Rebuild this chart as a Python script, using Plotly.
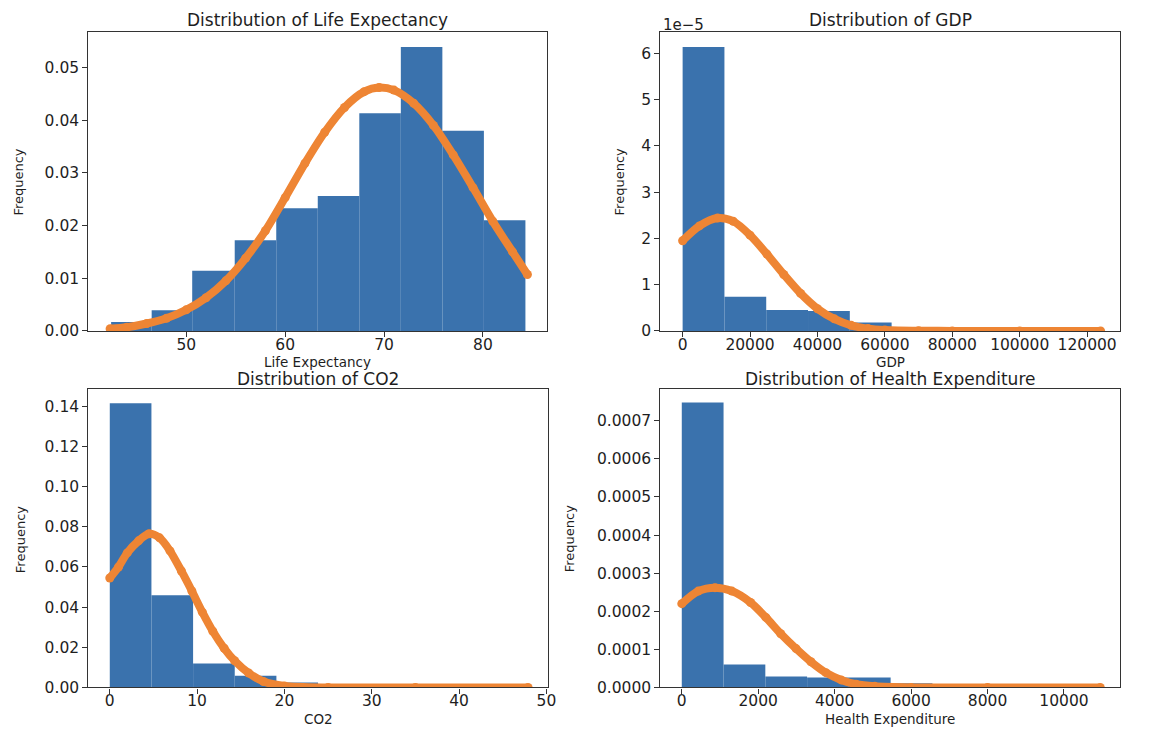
import plotly.graph_objects as go

# ---------------- data ----------------
life_edges = [42.4, 46.5, 50.6, 54.9, 59.1, 63.3, 67.5, 71.7, 75.9, 80.1, 84.3]
life_density = [0.0017, 0.0039, 0.0114, 0.0172, 0.0233, 0.0256, 0.0413, 0.0539, 0.0380, 0.0210]
life_curve_x = [42.3, 44, 46, 48, 50, 52, 54, 56, 58, 60, 62, 64, 66, 68, 69.5, 71, 73, 75,
                77, 79, 81, 83, 84.5]
life_curve_y = [0.0004, 0.0007, 0.0014, 0.0024, 0.0040, 0.0063, 0.0095, 0.0138, 0.0190,
                0.0253, 0.0318, 0.0377, 0.0424, 0.0454, 0.0462, 0.0457, 0.0432, 0.0390,
                0.0334, 0.0272, 0.0208, 0.0150, 0.0107]

gdp_edges = [0, 12400, 24800, 37200, 49600, 62000, 74400, 86800, 99200, 111600, 124000]
gdp_density = [6.14e-5, 0.74e-5, 0.45e-5, 0.43e-5, 0.18e-5, 0.03e-5, 0.01e-5, 0.01e-5, 0.0, 0.01e-5]
gdp_curve_x = [0, 5000, 10400, 15000, 20000, 25000, 30000, 35000, 40000, 45000, 50000,
               55000, 60000, 70000, 80000, 100000, 124000]
gdp_curve_y = [1.95e-5, 2.27e-5, 2.44e-5, 2.37e-5, 2.07e-5, 1.66e-5, 1.22e-5, 0.81e-5,
               0.48e-5, 0.26e-5, 0.12e-5, 0.05e-5, 0.02e-5, 0.003e-5, 0.0, 0.0, 0.0]

co2_edges = [0, 4.77, 9.54, 14.31, 19.08, 23.85, 28.62, 33.39, 38.16, 42.93, 47.7]
co2_density = [0.1415, 0.0459, 0.0119, 0.0059, 0.0025, 0.0002, 0.0001, 0.0, 0.0, 0.0001]
co2_curve_x = [0, 1, 2, 3.3, 4.5, 5.7, 6.9, 8.2, 9.4, 10.6, 11.8, 13.1, 14.3, 15.9, 17.6,
               20, 25, 35, 47.9]
co2_curve_y = [0.0545, 0.060, 0.067, 0.073, 0.0765, 0.0745, 0.068, 0.058, 0.048, 0.0375,
               0.028, 0.0195, 0.0133, 0.0072, 0.003, 0.0008, 0.0, 0.0, 0.0]

health_edges = [0, 1093, 2186, 3279, 4372, 5465, 6558, 7651, 8744, 9837, 10930]
health_density = [0.000748, 0.0000605, 0.0000285, 0.000026, 0.000026, 0.0000112,
                  0.000004, 0.000002, 0.000001, 0.000002]
health_curve_x = [0, 430, 870, 1310, 1800, 2200, 2590, 2990, 3380, 3770, 4170, 4560,
                  5050, 6000, 8000, 10950]
health_curve_y = [0.00022, 0.000253, 0.000262, 0.000253, 0.000223, 0.000184, 0.000141,
                  0.000102, 0.0000674, 0.0000389, 0.0000199, 0.0000086, 0.000003,
                  0.0000002, 0.0, 0.0]

titles = ["Distribution of Life Expectancy", "Distribution of GDP",
          "Distribution of CO2", "Distribution of Health Expenditure"]
xlabels = ["Life Expectancy", "GDP", "CO2", "Health Expenditure"]
ylabel = "Frequency"

# ---------------- styling / layout ----------------
W, H = 1151, 735
BAR = "#3a72ad"
ORANGE = "#ee8534"
TXT = "#1e1e1e"
FONT = "DejaVu Sans"

def fx(px):
    return px / W

def fy(py):
    return 1 - py / H

# axes boxes in pixels: (left, right, top, bottom)
boxes = [(89, 551, 32, 335), (665, 1128, 32, 335), (89, 552, 394, 696), (665, 1128, 394, 696)]
title_gap = [12, 12, 10, 10]

panels = [
    (life_edges, life_density, life_curve_x, life_curve_y),
    (gdp_edges, gdp_density, gdp_curve_x, gdp_curve_y),
    (co2_edges, co2_density, co2_curve_x, co2_curve_y),
    (health_edges, health_density, health_curve_x, health_curve_y),
]

xranges = [[40.1, 86.5], [-6600, 129800], [-2.45, 50.2], [-560, 11470]]
yranges = [[0, 0.0568], [0, 6.47e-5], [0, 0.1485], [0, 0.000783]]

xticks = [
    dict(tickvals=[50, 60, 70, 80], ticktext=["50", "60", "70", "80"]),
    dict(tickvals=[0, 20000, 40000, 60000, 80000, 100000, 120000],
         ticktext=["0", "20000", "40000", "60000", "80000", "100000", "120000"]),
    dict(tickvals=[0, 10, 20, 30, 40, 50], ticktext=["0", "10", "20", "30", "40", "50"]),
    dict(tickvals=[0, 2000, 4000, 6000, 8000, 10000],
         ticktext=["0", "2000", "4000", "6000", "8000", "10000"]),
]
yticks = [
    dict(tickvals=[0, 0.01, 0.02, 0.03, 0.04, 0.05],
         ticktext=["0.00", "0.01", "0.02", "0.03", "0.04", "0.05"]),
    dict(tickvals=[0, 1e-5, 2e-5, 3e-5, 4e-5, 5e-5, 6e-5],
         ticktext=["0", "1", "2", "3", "4", "5", "6"]),
    dict(tickvals=[0, 0.02, 0.04, 0.06, 0.08, 0.10, 0.12, 0.14],
         ticktext=["0.00", "0.02", "0.04", "0.06", "0.08", "0.10", "0.12", "0.14"]),
    dict(tickvals=[0, 0.0001, 0.0002, 0.0003, 0.0004, 0.0005, 0.0006, 0.0007],
         ticktext=["0.0000", "0.0001", "0.0002", "0.0003", "0.0004", "0.0005", "0.0006", "0.0007"]),
]

fig = go.Figure()
layout = dict(
    width=W, height=H, margin=dict(l=0, r=0, t=0, b=0),
    paper_bgcolor="white", plot_bgcolor="white", showlegend=False,
    font=dict(family=FONT, color=TXT, size=15),
)
annotations = []

for i, (edges, dens, cx, cy) in enumerate(panels):
    k = "" if i == 0 else str(i + 1)
    xa, ya = "x" + k, "y" + k
    centers = [(edges[j] + edges[j + 1]) / 2 for j in range(len(dens))]
    widths = [edges[j + 1] - edges[j] for j in range(len(dens))]
    fig.add_trace(go.Bar(x=centers, y=dens, width=widths, xaxis=xa, yaxis=ya,
                         marker=dict(color=BAR, line=dict(width=0))))
    fig.add_trace(go.Scatter(x=cx, y=cy, xaxis=xa, yaxis=ya, mode="lines+markers",
                             line=dict(color=ORANGE, width=8, shape="spline", smoothing=0.8),
                             marker=dict(color=ORANGE, size=9), cliponaxis=True))
    l, r, t, b = boxes[i]
    axis_common = dict(showline=True, mirror=True, linecolor="#333333", linewidth=1.3,
                       ticks="outside", ticklen=5, tickwidth=1.2, tickcolor="#333333",
                       showgrid=False, zeroline=False,
                       tickfont=dict(size=15.5, family=FONT, color=TXT), fixedrange=True)
    layout["xaxis" + k] = dict(domain=[fx(l), fx(r)], anchor=ya, range=xranges[i],
                               tickmode="array", ticklabelstandoff=-6,
                               **xticks[i], **axis_common)
    layout["yaxis" + k] = dict(domain=[fy(b), fy(t)], anchor=xa, range=yranges[i],
                               tickmode="array", **yticks[i], **axis_common)
    # title
    annotations.append(dict(text=titles[i], x=fx((l + r) / 2), y=fy(t - title_gap[i]),
                            xref="paper", yref="paper", xanchor="center", yanchor="middle",
                            showarrow=False, borderpad=0,
                            font=dict(size=17, family=FONT, color=TXT)))
    # x label
    annotations.append(dict(text=xlabels[i], x=fx((l + r) / 2), y=fy(b + 31.5), xref="paper",
                            yref="paper", xanchor="center", yanchor="middle", showarrow=False,
                            borderpad=0, font=dict(size=13.5, family=FONT, color=TXT)))

ylabel_pos = [(19, 184), (624, 184), (20, 546), (573, 546)]
for (px, py) in ylabel_pos:
    annotations.append(dict(text=ylabel, x=fx(px), y=fy(py), xref="paper", yref="paper",
                            xanchor="center", yanchor="middle", showarrow=False, textangle=-90,
                            font=dict(size=13, family=FONT, color=TXT)))

annotations.append(dict(text="1e\u22125", x=fx(666), y=fy(25), xref="paper", yref="paper",
                        xanchor="left", yanchor="middle", showarrow=False,
                        font=dict(size=15, family=FONT, color=TXT)))

layout["annotations"] = annotations
fig.update_layout(**layout)
fig.write_html("out.html")
